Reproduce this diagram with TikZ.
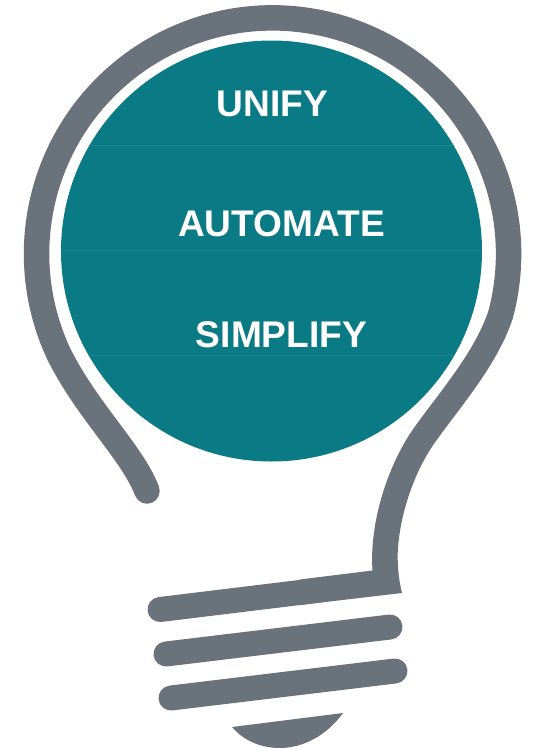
\documentclass[tikz,border=0pt]{standalone}
\usepackage{fontspec}
\setmainfont{Liberation Sans}
\definecolor{bulbgrey}{HTML}{6A737B}
\definecolor{bulbteal}{HTML}{0A7A85}
\definecolor{seamteal}{HTML}{1A8490}
\tikzset{
  wire/.style={draw=bulbgrey,line width=25.5pt,line cap=round},
  thread/.style={draw=bulbgrey,line width=25pt,line cap=round},
  seam/.style={draw=seamteal,line width=0.7pt},
  word/.style={text=white,font=\fontsize{37.1}{40}\selectfont\bfseries,inner sep=0pt,anchor=base}
}
\begin{document}
\begin{tikzpicture}[x=1pt,y=-1pt]
\useasboundingbox (0,0) rectangle (535,748);
% glass
\fill[bulbteal] (271.5,251) circle[radius=210.5];
\begin{scope}
  \clip (271.5,251) circle[radius=210.5];
  \draw[seam] (50,145) -- (490,145);
  \draw[seam] (50,250.3) -- (490,250.3);
  \draw[seam] (50,355.7) -- (490,355.7);
\end{scope}
% outline
\draw[wire,line cap=butt] (385,566) .. controls (383,525) and (399,470) .. (426,433)
  .. controls (452,397) and (486,358) .. (500.5,315)
  arc[start angle=15,end angle=-205,radius=236]
  .. controls (87.4,411.5) and (132,452) .. (147,491);
\fill[bulbgrey] (147,491) circle[radius=12.75];
% base
\fill[bulbgrey] (372.3,560) -- (372.3,570.5) -- (300,579.5) -- (300,605) -- (402,593)
  .. controls (399.5,583) and (398,572) .. (397.7,560) -- cycle;
\coordinate (t1a) at (160,609.5);
\coordinate (t1b) at (320,590);
\coordinate (t2a) at (166,654);
\coordinate (t2b) at (390,627);
\coordinate (t3a) at (171,698);
\coordinate (t3b) at (395,671);
\draw[thread] (t1a) -- (t1b);
\draw[thread] (t2a) -- (t2b);
\draw[thread] (t3a) -- (t3b);
% tip
\fill[bulbgrey] (232,727) -- (343,713) .. controls (325,738) and (300,748) .. (280,748) .. controls (260,748) and (243,740) .. (232,727) -- cycle;
% words
\node[word] (unify) at (272.3,116.5) {UNIFY};
\node[word] (automate) at (281.6,236) {AUTOMATE};
\node[word] (simplify) at (281.5,347) {SIMPLIFY};
\end{tikzpicture}
\end{document}
